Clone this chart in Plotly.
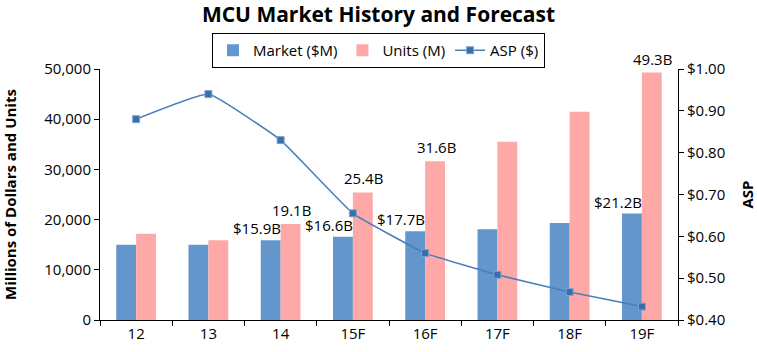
import plotly.graph_objects as go

years = ["12", "13", "14", "15F", "16F", "17F", "18F", "19F"]
market = [15000, 15000, 15900, 16600, 17700, 18100, 19300, 21200]
units = [17200, 15900, 19100, 25400, 31600, 35500, 41500, 49300]
asp = [0.88, 0.94, 0.83, 0.655, 0.56, 0.508, 0.467, 0.432]

market_labels = [None, None, "$15.9B", "$16.6B", "$17.7B", None, None, "$21.2B"]
units_labels = [None, None, "19.1B", "25.4B", "31.6B", None, None, "49.3B"]

y_ticks = [0, 10000, 20000, 30000, 40000, 50000]
asp_ticks = [0.4, 0.5, 0.6, 0.7, 0.8, 0.9, 1.0]

FONT = "Open Sans"
BLUE = "#6396CC"
PINK = "#FFA8A8"
LINE = "#4A7EBB"

n = len(years)
fig = go.Figure()
fig.add_trace(go.Bar(name="Market ($M)", x=years, y=market, marker_color=BLUE,
                     marker_line_width=0))
fig.add_trace(go.Bar(name="Units (M)", x=years, y=units, marker_color=PINK,
                     marker_line_width=0))
fig.add_trace(go.Scatter(name="ASP ($)", x=years, y=asp, yaxis="y2", mode="lines+markers",
                         line=dict(color=LINE, width=1.5, shape="spline", smoothing=0.3),
                         marker=dict(symbol="square", size=7, color="#3D6DA6",
                                     line=dict(color="#7FA3CF", width=1))))

annotations = []
for i, (v, lab) in enumerate(zip(market, market_labels)):
    if lab:
        annotations.append(dict(x=i, y=v, xref="x", yref="y", text=lab, showarrow=False,
                                xshift=-24, yshift=12, yanchor="middle",
                                font=dict(family=FONT, size=15, color="#000")))
for i, (v, lab) in enumerate(zip(units, units_labels)):
    if lab:
        annotations.append(dict(x=i, y=v, xref="x", yref="y", text=lab, showarrow=False,
                                xshift=11, yshift=14, yanchor="middle",
                                font=dict(family=FONT, size=15, color="#000")))

tickfont = dict(family=FONT, size=15, color="#000")
fig.update_layout(
    width=757, height=352,
    margin=dict(l=100, r=79, t=69, b=32, autoexpand=False),
    paper_bgcolor="white", plot_bgcolor="white",
    barmode="group", bargap=0.45, bargroupgap=0,
    title=dict(text="<b>MCU Market History and Forecast</b>", x=0.5, xanchor="center",
               y=1 - 15 / 352, yanchor="middle", yref="container",
               font=dict(family=FONT, size=21, color="#000")),
    legend=dict(orientation="h", x=0.5, xanchor="center", xref="container",
                y=1 - 33 / 352, yanchor="top", yref="container",
                bordercolor="#000", borderwidth=1, bgcolor="white",
                font=dict(family=FONT, size=15, color="#000"),
                itemwidth=30, tracegroupgap=0),
    xaxis=dict(type="category", range=[-0.5, n - 0.5], autorange=False,
               showline=True, linecolor="#000", linewidth=1,
               ticks="outside", ticklen=5, tickcolor="#000", tickson="boundaries",
               showgrid=False, tickfont=tickfont, zeroline=False),
    xaxis2=dict(overlaying="x", range=[-0.5, n - 0.5], autorange=False,
                tickvals=[i - 0.5 for i in range(n + 1)],
                ticks="inside", ticklen=5, tickcolor="#000", showticklabels=False,
                showgrid=False, zeroline=False, showline=False, anchor="y", side="bottom"),
    yaxis=dict(range=[0, 50000], autorange=False, tickvals=y_ticks, tickformat=",d",
               showline=True, linecolor="#000", linewidth=1,
               ticks="outside", ticklen=5, tickcolor="#000", showgrid=False, zeroline=False,
               tickfont=tickfont,
               title=dict(text="<b>Millions of Dollars and Units</b>", standoff=25,
                          font=dict(family=FONT, size=15, color="#000"))),
    yaxis3=dict(overlaying="y", range=[0, 50000], tickvals=y_ticks, side="left",
                ticks="inside", ticklen=5, tickcolor="#000", showticklabels=False,
                showgrid=False, zeroline=False, showline=False, anchor="x"),
    yaxis2=dict(overlaying="y", side="right", range=[0.4, 1.0], autorange=False,
                tickvals=asp_ticks,
                tickformat="$.2f", showline=True, linecolor="#000", linewidth=1,
                ticks="outside", ticklen=5, tickcolor="#000", showgrid=False, zeroline=False,
                tickfont=tickfont,
                title=dict(text="<b>ASP</b>", standoff=19,
                           font=dict(family=FONT, size=15, color="#000"))),
    yaxis4=dict(overlaying="y", side="right", range=[0.4, 1.0], tickvals=asp_ticks,
                ticks="inside", ticklen=5, tickcolor="#000", showticklabels=False,
                showgrid=False, zeroline=False, showline=False, anchor="x"),
    annotations=annotations,
)

fig.write_html("out.html")
